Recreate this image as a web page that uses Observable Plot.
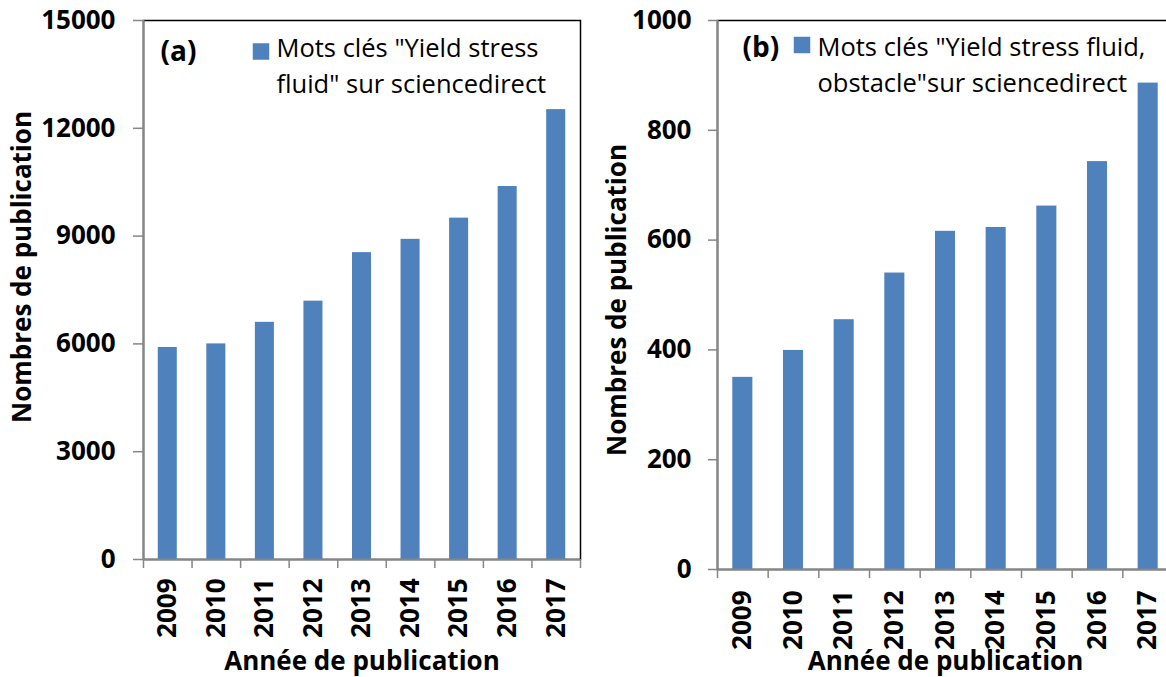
<!DOCTYPE html>
<html>
<head>
<meta charset="utf-8">
<script src="https://cdn.jsdelivr.net/npm/d3@7"></script>
<script src="https://cdn.jsdelivr.net/npm/@observablehq/plot@0.6"></script>
<style>
  html, body { margin: 0; padding: 0; background: #fff; overflow: hidden; }
  #wrap { position: relative; width: 1166px; height: 677px; overflow: hidden; }
  #wrap svg { position: absolute; top: 0; }
</style>
</head>
<body>
<div id="wrap"></div>
<script>
// ---- data ----
const years = [2009, 2010, 2011, 2012, 2013, 2014, 2015, 2016, 2017];
const countsA = [5900, 6000, 6600, 7190, 8540, 8910, 9500, 10380, 12520];
const countsB = [350, 399, 455, 540, 616, 623, 662, 743, 886];
const ticksA = [0, 3000, 6000, 9000, 12000, 15000];
const ticksB = [0, 200, 400, 600, 800, 1000];
const panelA = "(a)";
const panelB = "(b)";
const legendA = "Mots clés \"Yield stress\nfluid\" sur sciencedirect";
const legendB = "Mots clés \"Yield stress fluid,\nobstacle\"sur sciencedirect";
const yTitle = "Nombres de publication";
const xTitle = "Année de publication";

const BLUE = "#4F81BD";
const GRAY = "#868686";
const FONT = "'Open Sans', Lato, sans-serif";

function panel(opts) {
  const data = years.map((y, i) => ({year: y, count: opts.values[i]}));
  const bounds = years.map(y => y - 0.5).concat([years[years.length - 1] + 0.5]);
  const xmin = bounds[0], xmax = bounds[bounds.length - 1];
  const y0 = opts.ticks[0];
  const half = opts.barHalf;
  return Plot.plot({
    width: opts.width,
    height: 677,
    marginLeft: opts.ml,
    marginRight: opts.mr,
    marginTop: 20,
    marginBottom: opts.mb,
    style: {fontFamily: FONT, fontSize: "26px", color: "black", background: "white", overflow: "visible"},
    x: {type: "linear", domain: [xmin, xmax], axis: null},
    y: {type: "linear", domain: [y0, opts.ticks[opts.ticks.length - 1]], axis: null},
    marks: [
      Plot.frame({stroke: "black", strokeWidth: 1.5}),
      Plot.rectY(data, {x1: d => d.year - half, x2: d => d.year + half, y1: y0, y2: "count", fill: BLUE}),
      // y ticks (outside, left)
      Plot.ruleY(opts.ticks, {y: d => d, x1: xmin, x2: xmin, insetLeft: -opts.tick, stroke: GRAY, strokeWidth: 1.5}),
      // x ticks at category boundaries (outside, below)
      Plot.ruleX(bounds, {x: d => d, y1: y0, y2: y0, insetBottom: -9, stroke: GRAY, strokeWidth: 1.5}),
      Plot.ruleY([y0], {stroke: GRAY, strokeWidth: 2}),
      Plot.ruleX([xmin], {stroke: GRAY, strokeWidth: 2}),
      // tick labels
      Plot.text(opts.ticks, {x: xmin, y: d => d, text: d => String(d), textAnchor: "end", lineAnchor: "middle",
        dx: opts.ylabDx, fontWeight: "bold", fontSize: 26, fill: "black"}),
      Plot.text(years, {x: d => d, y: y0, text: d => String(d), rotate: -90, textAnchor: "end", lineAnchor: "middle",
        dy: opts.xlabDy, fontWeight: "bold", fontSize: 26, fill: "black"}),
      // titles
      Plot.text([xTitle], {frameAnchor: "bottom", dy: opts.xTitleDy, textAnchor: "middle", lineAnchor: "middle", fontWeight: "bold", fontSize: 26, fill: "black"}),
      Plot.text([yTitle], {frameAnchor: "left", dx: opts.yTitleDx, dy: opts.yTitleDy, rotate: -90, textAnchor: "middle", lineAnchor: "middle", fontWeight: "bold", fontSize: 26, fill: "black"}),
      // panel letter + legend
      Plot.text([opts.panel], {frameAnchor: "top-left", dx: opts.pdx, dy: opts.pdy, textAnchor: "start", lineAnchor: "middle", fontWeight: "bold", fontSize: 28, fill: "black"}),
      Plot.dot([0], {frameAnchor: "top-left", dx: opts.sdx, dy: opts.sdy, symbol: "square", r: 9.3, fill: BLUE, stroke: null}),
      Plot.text([opts.legend], {frameAnchor: "top-left", dx: opts.ldx, dy: opts.ldy, textAnchor: "start", lineAnchor: "top", lineHeight: 1.4, fontSize: 25.5, fill: "black"})
    ]
  });
}

const wrap = document.getElementById("wrap");
const a = panel({values: countsA, ticks: ticksA, width: 590, ml: 143, mr: 10, mb: 118, barHalf: 0.196, tick: 10,
  ylabDx: -28, xlabDy: 19,
  xTitleDy: 102, yTitleDx: -121, yTitleDy: -23, panel: panelA, pdx: 17, pdy: 32,
  sdx: 117.5, sdy: 31, legend: legendA, ldx: 133, ldy: 11.5});
a.style.left = "0px";
wrap.appendChild(a);
const b = panel({values: countsB, ticks: ticksB, width: 590, ml: 127, mr: 7, mb: 108, barHalf: 0.198, tick: 9,
  ylabDx: -26, xlabDy: 21,
  xTitleDy: 92, yTitleDx: -100, yTitleDy: 5, panel: panelB, pdx: 25, pdy: 28,
  sdx: 84.5, sdy: 24.5, legend: legendB, ldx: 100, ldy: 10.5});
b.style.left = "590px";
wrap.appendChild(b);
</script>
</body>
</html>
